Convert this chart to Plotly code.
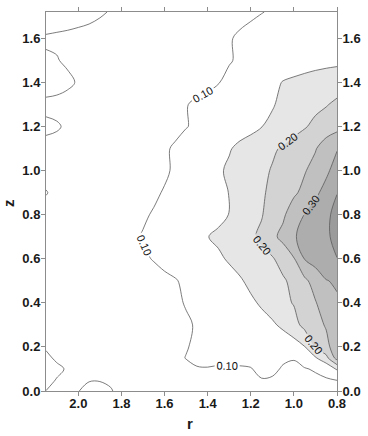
import plotly.graph_objects as go

r_vals = [0.80, 0.85, 0.90, 0.95, 1.00, 1.05, 1.10, 1.15, 1.20, 1.25, 1.30, 1.35, 1.40, 1.45,
          1.50, 1.55, 1.60, 1.65, 1.70, 1.75, 1.80, 1.85, 1.90, 1.95, 2.00, 2.05, 2.10, 2.15]
z_vals = [0.00, 0.05, 0.10, 0.15, 0.20, 0.30, 0.40, 0.50, 0.60, 0.70, 0.80, 0.90, 1.00,
          1.10, 1.20, 1.30, 1.40, 1.50, 1.60, 1.72]

row_z000 = [0.085, 0.087, 0.088, 0.088, 0.088, 0.089, 0.092, 0.093, 0.092, 0.091, 0.091, 0.091, 0.092, 0.091,
            0.090, 0.089, 0.089, 0.089, 0.090, 0.092, 0.096, 0.101, 0.106, 0.105, 0.0995, 0.094, 0.096, 0.0998]
row_z005 = [0.1005, 0.097, 0.094, 0.092, 0.091, 0.093, 0.098, 0.099, 0.096, 0.095, 0.095, 0.095, 0.096, 0.095,
            0.093, 0.091, 0.090, 0.089, 0.089, 0.090, 0.093, 0.098, 0.099, 0.099, 0.099, 0.096, 0.099, 0.106]
row_z010 = [0.155, 0.112, 0.103, 0.098, 0.093, 0.098, 0.104, 0.105, 0.099, 0.098, 0.098, 0.097, 0.099, 0.099,
            0.096, 0.092, 0.091, 0.090, 0.090, 0.091, 0.093, 0.095, 0.096, 0.096, 0.097, 0.098, 0.104, 0.112]
row_z015 = [0.270, 0.185, 0.145, 0.115, 0.102, 0.103, 0.106, 0.106, 0.106, 0.105, 0.105, 0.106, 0.105, 0.103,
            0.1005, 0.096, 0.092, 0.090, 0.088, 0.087, 0.087, 0.087, 0.087, 0.088, 0.090, 0.093, 0.097, 0.104]
row_z020 = [0.276, 0.237, 0.205, 0.148, 0.128, 0.118, 0.113, 0.111, 0.110, 0.109, 0.108, 0.107, 0.105, 0.103,
            0.099, 0.095, 0.092, 0.090, 0.088, 0.087, 0.087, 0.087, 0.087, 0.088, 0.089, 0.091, 0.094, 0.098]
row_z030 = [0.282, 0.254, 0.235, 0.215, 0.182, 0.160, 0.143, 0.133, 0.125, 0.119, 0.114, 0.110, 0.106, 0.102,
            0.097, 0.093, 0.090, 0.089, 0.088, 0.087, 0.087, 0.087, 0.087, 0.087, 0.087, 0.088, 0.088, 0.089]
row_z040 = [0.294, 0.276, 0.247, 0.229, 0.203, 0.188, 0.172, 0.156, 0.142, 0.132, 0.125, 0.118, 0.112, 0.107,
            0.1015, 0.096, 0.092, 0.090, 0.089, 0.088, 0.088, 0.088, 0.087, 0.087, 0.088, 0.088, 0.089, 0.089]
row_z050 = [0.306, 0.298, 0.270, 0.240, 0.215, 0.193, 0.182, 0.172, 0.161, 0.145, 0.134, 0.126, 0.119, 0.112,
            0.106, 0.098, 0.093, 0.090, 0.089, 0.088, 0.088, 0.088, 0.088, 0.088, 0.089, 0.089, 0.090, 0.090]
row_z060 = [0.348, 0.335, 0.320, 0.302, 0.247, 0.222, 0.195, 0.185, 0.177, 0.168, 0.155, 0.143, 0.135, 0.127,
            0.120, 0.114, 0.109, 0.1015, 0.096, 0.093, 0.091, 0.090, 0.089, 0.089, 0.089, 0.089, 0.090, 0.090]
row_z070 = [0.385, 0.330, 0.325, 0.313, 0.296, 0.262, 0.240, 0.209, 0.192, 0.180, 0.170, 0.158, 0.149, 0.134,
            0.126, 0.119, 0.113, 0.108, 0.1015, 0.096, 0.093, 0.091, 0.090, 0.089, 0.089, 0.089, 0.090, 0.091]
row_z080 = [0.372, 0.335, 0.322, 0.302, 0.275, 0.243, 0.222, 0.197, 0.185, 0.172, 0.151, 0.139, 0.131, 0.124,
            0.118, 0.112, 0.107, 0.102, 0.097, 0.094, 0.092, 0.090, 0.089, 0.089, 0.089, 0.090, 0.092, 0.093]
row_z090 = [0.348, 0.318, 0.290, 0.262, 0.243, 0.230, 0.210, 0.194, 0.183, 0.170, 0.151, 0.139, 0.130, 0.122,
            0.115, 0.108, 0.102, 0.096, 0.092, 0.090, 0.089, 0.088, 0.088, 0.088, 0.089, 0.091, 0.095, 0.101]
row_z100 = [0.322, 0.290, 0.266, 0.247, 0.235, 0.222, 0.203, 0.191, 0.181, 0.171, 0.158, 0.143, 0.132, 0.122,
            0.113, 0.104, 0.096, 0.092, 0.090, 0.089, 0.088, 0.087, 0.087, 0.087, 0.088, 0.089, 0.091, 0.093]
row_z110 = [0.297, 0.275, 0.247, 0.234, 0.220, 0.205, 0.194, 0.183, 0.172, 0.162, 0.146, 0.134, 0.124, 0.116,
            0.110, 0.103, 0.097, 0.093, 0.090, 0.089, 0.088, 0.088, 0.088, 0.088, 0.089, 0.091, 0.093, 0.094]
row_z120 = [0.235, 0.225, 0.212, 0.196, 0.183, 0.172, 0.161, 0.149, 0.137, 0.128, 0.120, 0.114, 0.109, 0.104,
            0.099, 0.094, 0.091, 0.089, 0.088, 0.087, 0.087, 0.087, 0.088, 0.090, 0.093, 0.097, 0.102, 0.104]
row_z130 = [0.210, 0.197, 0.188, 0.180, 0.172, 0.162, 0.146, 0.136, 0.128, 0.121, 0.116, 0.112, 0.108, 0.104,
            0.099, 0.095, 0.092, 0.090, 0.089, 0.088, 0.088, 0.088, 0.088, 0.089, 0.090, 0.092, 0.094, 0.095]
row_z140 = [0.176, 0.172, 0.167, 0.162, 0.157, 0.152, 0.140, 0.130, 0.122, 0.114, 0.107, 0.099, 0.094, 0.091,
            0.089, 0.088, 0.087, 0.087, 0.087, 0.087, 0.088, 0.089, 0.091, 0.094, 0.098, 0.104, 0.108, 0.110]
row_z150 = [0.140, 0.138, 0.136, 0.133, 0.130, 0.127, 0.122, 0.116, 0.110, 0.104, 0.098, 0.094, 0.091, 0.089,
            0.088, 0.087, 0.086, 0.086, 0.086, 0.087, 0.088, 0.089, 0.090, 0.092, 0.094, 0.097, 0.101, 0.102]
row_z160 = [0.136, 0.134, 0.132, 0.129, 0.126, 0.123, 0.119, 0.114, 0.109, 0.104, 0.098, 0.094, 0.091, 0.089,
            0.087, 0.086, 0.085, 0.085, 0.086, 0.087, 0.089, 0.091, 0.093, 0.094, 0.095, 0.096, 0.097, 0.098]
row_z172 = [0.130, 0.126, 0.121, 0.117, 0.112, 0.108, 0.103, 0.099, 0.095, 0.092, 0.089, 0.087, 0.085, 0.084,
            0.083, 0.083, 0.084, 0.086, 0.089, 0.093, 0.096, 0.099, 0.102, 0.105, 0.107, 0.109, 0.110, 0.111]

grid = [row_z000, row_z005, row_z010, row_z015, row_z020, row_z030, row_z040, row_z050, row_z060,
        row_z070, row_z080, row_z090, row_z100, row_z110, row_z120, row_z130, row_z140, row_z150,
        row_z160, row_z172]

x_ticks = [2.0, 1.8, 1.6, 1.4, 1.2, 1.0, 0.8]
y_ticks = [0.0, 0.2, 0.4, 0.6, 0.8, 1.0, 1.2, 1.4, 1.6]

# band colours: <0.10, 0.10-0.15, 0.15-0.20, 0.20-0.25, 0.25-0.30, 0.30-0.35, 0.35-0.40, >0.40
band_colors = ["#ffffff", "#ffffff", "#e6e6e6", "#d3d3d3", "#c0c0c0", "#adadad", "#9b9b9b", "#8a8a8a"]
n = len(band_colors) - 1
cscale = []
for k, c in enumerate(band_colors):
    lo = max(0.0, (k - 0.5) / n)
    hi = min(1.0, (k + 0.5) / n)
    cscale.append([lo, c])
    cscale.append([hi, c])

line_col = "#5a5a5a"
tick_font = dict(family="Liberation Sans", size=13, color="#1a1a1a", weight="bold")
title_font = dict(family="Liberation Sans", size=15, color="#1a1a1a", weight="bold")

fig = go.Figure()
fig.add_trace(go.Contour(
    x=r_vals, y=z_vals, z=grid,
    contours=dict(start=0.10, end=0.40, size=0.05, coloring="fill", showlines=False),
    colorscale=cscale, showscale=False, line=dict(width=0), hoverinfo="skip"))
fig.add_trace(go.Contour(
    x=r_vals, y=z_vals, z=grid,
    contours=dict(start=0.15, end=0.35, size=0.10, coloring="none"),
    line=dict(color=line_col, width=0.8), showscale=False, hoverinfo="skip"))
# labelled levels 0.10, 0.20, 0.30 (higher levels of this series never occur in the data;
# the long level list only makes plotly place labels more densely along each line)
fig.add_trace(go.Contour(
    x=r_vals, y=z_vals, z=grid,
    contours=dict(start=0.10, end=6.0, size=0.10, coloring="none", showlabels=True,
                  labelfont=dict(family="Liberation Sans", size=11, color="#111111"),
                  labelformat=".2f"),
    line=dict(color=line_col, width=0.8), showscale=False, hoverinfo="skip"))
fig.add_trace(go.Scatter(x=[None], y=[None], yaxis="y2", showlegend=False, hoverinfo="skip"))

axis_common = dict(showgrid=False, zeroline=False, showline=True, linecolor="#8c8c8c", linewidth=1,
                   ticks="outside", ticklen=4, tickcolor="#8c8c8c", tickfont=tick_font,
                   tickformat=".1f")

fig.update_layout(
    width=368, height=436,
    margin=dict(l=46, r=27, t=7, b=45),
    paper_bgcolor="white", plot_bgcolor="white",
    showlegend=False,
    xaxis=dict(range=[2.15, 0.80], tickvals=x_ticks, mirror="ticks", ticklabelstandoff=-4,
               **axis_common),
    yaxis=dict(range=[0, 1.72], tickvals=y_ticks, ticklabelstandoff=-2, **axis_common),
    yaxis2=dict(range=[0, 1.72], tickvals=y_ticks, overlaying="y", side="right",
                ticklabelstandoff=-2, **axis_common),
    annotations=[
        dict(text="z", xref="paper", yref="paper", x=-0.129, y=0.497, xanchor="center",
             yanchor="middle", showarrow=False, textangle=-90, font=title_font),
        dict(text="r", xref="paper", yref="paper", x=0.495, y=-0.086, xanchor="center",
             yanchor="middle", showarrow=False, font=title_font),
    ],
)

fig.write_html(
    "out.html",
    config={"displayModeBar": False},
    post_script="document.body.style.margin='0';document.body.style.overflow='hidden';",
)
